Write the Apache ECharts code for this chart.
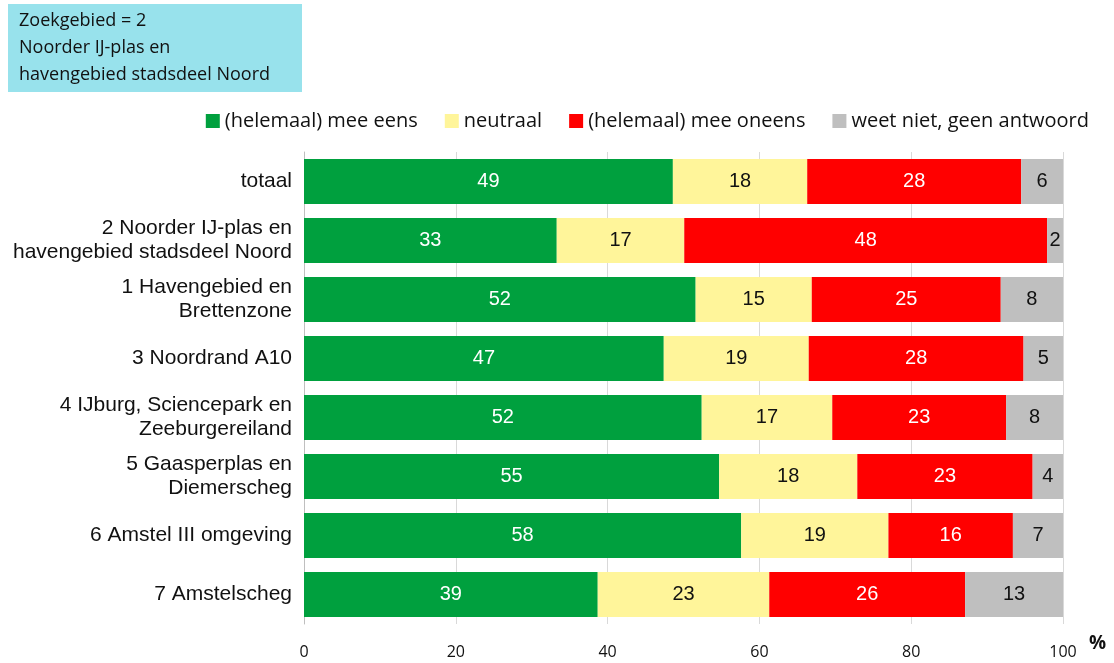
<!DOCTYPE html>
<html>
<head>
<meta charset="utf-8">
<script src="https://cdn.jsdelivr.net/npm/echarts@6/dist/echarts.min.js"></script>
<style>
  html, body { margin: 0; padding: 0; background: #fff; }
  #chart { width: 1114px; height: 663px; }
</style>
</head>
<body>
<div id="chart"></div>
<script>
var categories = [
    'totaal',
    '2 Noorder IJ-plas en\nhavengebied stadsdeel Noord',
    '1 Havengebied en\nBrettenzone',
    '3 Noordrand A10',
    '4 IJburg, Sciencepark en\nZeeburgereiland',
    '5 Gaasperplas en\nDiemerscheg',
    '6 Amstel III omgeving',
    '7 Amstelscheg'
];
var seriesNames = ['(helemaal) mee eens', 'neutraal', '(helemaal) mee oneens', 'weet niet, geen antwoord'];
var eens = [48.6, 33.3, 51.6, 47.4, 52.4, 54.7, 57.6, 38.7];
var neutraal = [17.7, 16.8, 15.3, 19.1, 17.2, 18.2, 19.4, 22.6];
var oneens = [28.2, 47.8, 24.9, 28.3, 22.9, 23.1, 16.4, 25.8];
var weetNiet = [5.5, 2.1, 8.2, 5.2, 7.5, 4.0, 6.6, 12.9];
var xTicks = [0, 20, 40, 60, 80, 100];

var colors = ['#00A03E', '#FFF59A', '#FF0000', '#BFBFBF'];
var labelColors = ['#fff', '#111', '#fff', '#111'];

var chart = echarts.init(document.getElementById('chart'));

function makeSeries(name, data, i) {
    return {
        name: name,
        type: 'bar',
        stack: 'total',
        barWidth: 45,
        data: data,
        itemStyle: { color: colors[i] },
        label: {
            show: true,
            position: 'inside',
            color: labelColors[i],
            fontFamily: 'Liberation Sans',
            fontSize: 20,
            formatter: function (p) { return Math.round(p.value); }
        }
    };
}

var option = {
    animation: false,
    graphic: [
        {
            type: 'rect',
            left: 8, top: 4,
            shape: { width: 294, height: 88 },
            style: { fill: '#98E2EC' }
        },
        {
            type: 'text',
            left: 19, top: 7,
            style: {
                text: 'Zoekgebied = 2\nNoorder IJ-plas en\nhavengebied stadsdeel Noord',
                fontFamily: 'Open Sans',
                fontSize: 18,
                lineHeight: 27,
                fill: '#111'
            }
        },
        {
            type: 'text',
            left: 1089, top: 634,
            style: { text: '%', fontFamily: 'Open Sans', fontSize: 19, fontWeight: 'bold', fill: '#111' }
        }
    ],
    legend: {
        top: 106,
        right: 20,
        itemWidth: 14,
        itemHeight: 14,
        itemGap: 27,
        icon: 'rect',
        textStyle: { fontFamily: 'Open Sans', fontSize: 20, color: '#111' },
        data: seriesNames
    },
    grid: { left: 304, right: 51, top: 152, bottom: 39 },
    xAxis: {
        type: 'value',
        min: 0,
        max: 100,
        interval: 20,
        axisLine: { show: false },
        axisTick: { show: false },
        splitLine: { lineStyle: { color: '#D9D9D9', width: 1 } },
        axisLabel: {
            margin: 20,
            fontFamily: 'Open Sans',
            fontSize: 16,
            color: '#111',
            formatter: function (v) { return xTicks.indexOf(v) >= 0 ? v : ''; }
        }
    },
    yAxis: {
        type: 'category',
        inverse: true,
        data: categories,
        axisLine: { show: true, lineStyle: { color: '#BFBFBF' } },
        axisTick: { show: false },
        axisLabel: {
            margin: 12,
            fontFamily: 'Liberation Sans',
            fontSize: 21,
            lineHeight: 24,
            color: '#111',
            align: 'right'
        }
    },
    series: [
        makeSeries(seriesNames[0], eens, 0),
        makeSeries(seriesNames[1], neutraal, 1),
        makeSeries(seriesNames[2], oneens, 2),
        makeSeries(seriesNames[3], weetNiet, 3)
    ]
};

chart.setOption(option);
</script>
</body>
</html>
